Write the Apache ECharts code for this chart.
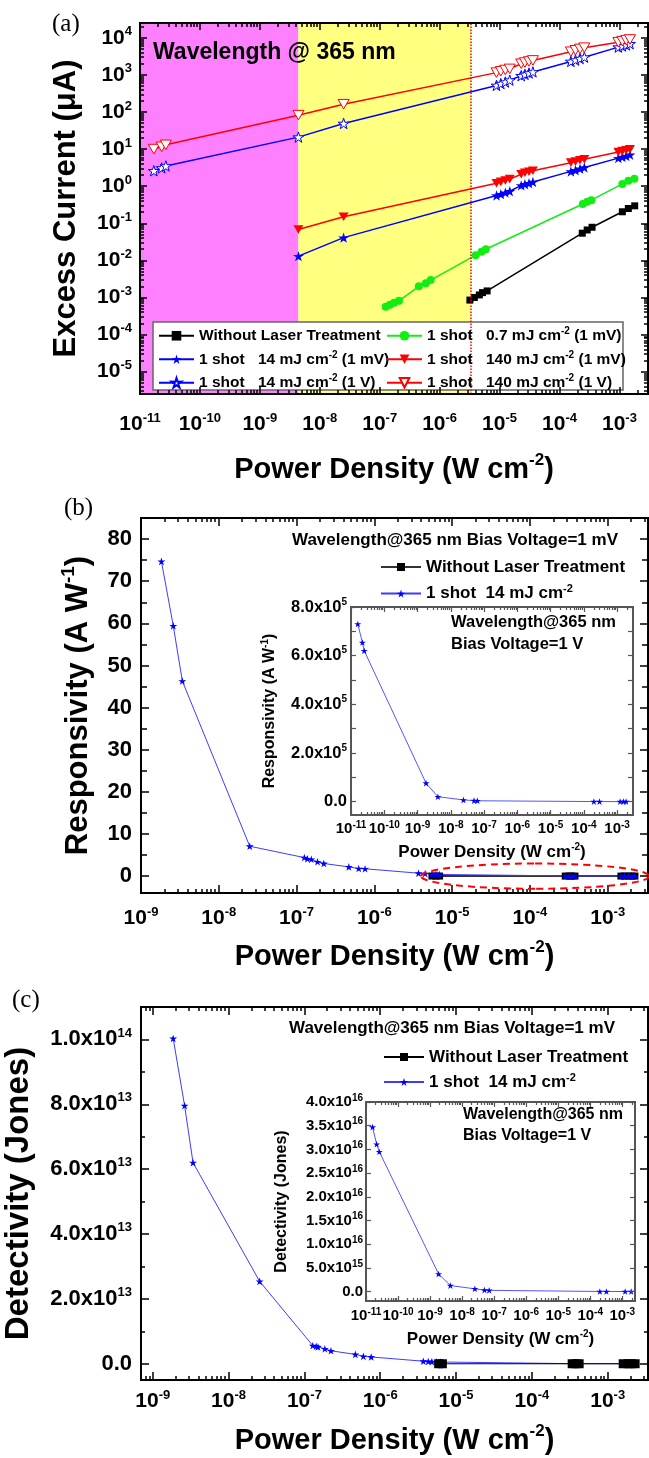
<!DOCTYPE html>
<html><head><meta charset="utf-8">
<script src="https://cdn.jsdelivr.net/npm/echarts@6/dist/echarts.min.js"></script>
<style>html,body{margin:0;padding:0;background:#fff}#c{width:649px;height:1458px}</style>
</head><body><div id="c"></div>
<script>
// ================= DATA =================
// Panel (a): excess current (uA) vs power density (W cm^-2)
const aBlackX = [3.2e-6, 3.8e-6, 4.6e-6, 5.2e-6, 6.2e-6, 2.4e-4, 2.9e-4, 3.5e-4, 1.12e-3, 1.41e-3, 1.8e-3];
const aBlackY = [8.5e-4, 1.0e-3, 1.17e-3, 1.35e-3, 1.5e-3, 0.054, 0.066, 0.078, 0.204, 0.25, 0.295];
const aGreenX = [1.26e-7, 1.48e-7, 1.74e-7, 2.1e-7, 4.5e-7, 5.9e-7, 7.1e-7, 4.0e-6, 5.0e-6, 5.9e-6, 2.45e-4, 2.9e-4, 3.4e-4, 1.12e-3, 1.41e-3, 1.78e-3];
const aGreenY = [5.6e-4, 6.4e-4, 7.2e-4, 8.1e-4, 2.0e-3, 2.4e-3, 2.95e-3, 0.0138, 0.017, 0.02, 0.33, 0.38, 0.42, 1.15, 1.41, 1.58];
const aMilliVoltX = [4.4e-9, 2.5e-8, 8.9e-6, 1.05e-5, 1.25e-5, 1.48e-5, 2.3e-5, 2.65e-5, 3.1e-5, 3.6e-5, 1.55e-4, 1.85e-4, 2.2e-4, 2.6e-4, 9.6e-4, 1.12e-3, 1.3e-3, 1.5e-3];
const a14mJ1mV  = [0.013, 0.041, 0.56, 0.61, 0.67, 0.73, 1.05, 1.13, 1.2, 1.3, 2.5, 2.7, 2.95, 3.2, 5.7, 6.1, 6.5, 7.0];
const a140mJ1mV = [0.068, 0.15, 1.2, 1.3, 1.42, 1.55, 2.1, 2.3, 2.45, 2.6, 4.3, 4.6, 5.0, 5.3, 8.3, 8.8, 9.3, 9.8];
const aVoltX = [1.7e-11, 2.3e-11, 2.7e-11, 4.4e-9, 2.5e-8, 8.9e-6, 1.05e-5, 1.25e-5, 1.48e-5, 2.3e-5, 2.65e-5, 3.1e-5, 3.6e-5, 1.55e-4, 1.85e-4, 2.2e-4, 2.6e-4, 9.6e-4, 1.12e-3, 1.3e-3, 1.5e-3];
const a14mJ1V  = [2.6, 3.1, 3.5, 21, 49, 520, 580, 640, 720, 950, 1030, 1120, 1200, 2300, 2500, 2750, 3000, 5600, 6000, 6400, 6900];
const a140mJ1V = [10, 11.5, 13, 82, 162, 1150, 1250, 1350, 1450, 2000, 2150, 2300, 2450, 4200, 4600, 5000, 5400, 7600, 8100, 8600, 9000];
const aRegionEdges = [4.4e-9, 3.3e-6];          // magenta | yellow | white boundaries
const aXRange = [1e-11, 3e-3], aYRange = [2.5e-6, 2.5e4];

// Panel (b): responsivity (A/W)
const bBlackX = [5.5e-6, 6.2e-6, 6.9e-6, 2.85e-4, 3.2e-4, 3.45e-4, 3.8e-4, 1.48e-3, 1.65e-3, 1.85e-3, 2.05e-3, 2.24e-3];
const bBlackY = [0.02, 0.02, 0.02, 0.02, 0.02, 0.02, 0.02, 0.02, 0.02, 0.02, 0.02, 0.02];
const bStarX = [1.83e-9, 2.6e-9, 3.4e-9, 2.5e-8, 1.26e-7, 1.38e-7, 1.55e-7, 1.86e-7, 2.24e-7, 4.7e-7, 6.3e-7, 7.6e-7, 3.7e-6, 4.5e-6, 5.5e-6, 6.2e-6, 6.9e-6, 2.85e-4, 3.2e-4, 3.45e-4, 3.8e-4, 1.48e-3, 1.65e-3, 1.85e-3, 2.05e-3, 2.24e-3];
const bStarY = [74.7, 59.4, 46.3, 7.1, 4.4, 4.1, 4.0, 3.4, 3.0, 2.2, 1.8, 1.75, 0.7, 0.6, 0.5, 0.45, 0.4, 0.06, 0.055, 0.05, 0.045, 0.03, 0.028, 0.026, 0.024, 0.022];
const bInsetX = [1.6e-11, 2.2e-11, 2.5e-11, 1.8e-9, 4.1e-9, 2.4e-8, 5.0e-8, 6.3e-8, 2.0e-4, 2.95e-4, 1.23e-3, 1.55e-3, 1.86e-3];
const bInsetY = [7.3e5, 6.54e5, 6.2e5, 7.6e4, 2.0e4, 7.0e3, 4.0e3, 3.5e3, 300, 250, 100, 80, 60];
const bEllipseX = [4e-6, 3.4e-3], bEllipseY = [-3, 3];
const bXRange = [1e-9, 3.3e-3], bYRange = [-4, 85];
const bInXRange = [1e-11, 3e-3], bInYRange = [-55000, 800000];
const bYLabels = [0, 10, 20, 30, 40, 50, 60, 70, 80];
const bYMinor = [5, 15, 25, 35, 45, 55, 65, 75];
const bInYLabels = [0, 2e5, 4e5, 6e5, 8e5];
const bInYMinor = [1e5, 3e5, 5e5, 7e5];

// Panel (c): detectivity (Jones)
const cStarX = [1.86e-9, 2.63e-9, 3.4e-9, 2.57e-8, 1.29e-7, 1.43e-7, 1.51e-7, 1.86e-7, 2.24e-7, 4.7e-7, 6.0e-7, 7.6e-7, 3.7e-6, 4.3e-6, 4.8e-6, 5.5e-6, 6.2e-6, 3.4e-4, 3.8e-4, 4.2e-4, 1.6e-3, 1.85e-3, 2.05e-3, 2.3e-3];
const cStarY = [1.003e14, 7.96e13, 6.2e13, 2.54e13, 5.6e12, 5.4e12, 5.2e12, 4.6e12, 4.0e12, 2.9e12, 2.3e12, 2.1e12, 8e11, 7e11, 6.5e11, 6e11, 5.5e11, 4e10, 3.5e10, 3e10, 2e10, 1.8e10, 1.6e10, 1.5e10];
const cBlackX = [5.9e-6, 6.6e-6, 3.4e-4, 3.8e-4, 4.2e-4, 1.6e-3, 1.85e-3, 2.05e-3, 2.3e-3];
const cBlackY = [1e10, 1e10, 1e10, 1e10, 1e10, 1e10, 1e10, 1e10, 1e10];
const cInsetX = [1.6e-11, 2.15e-11, 2.6e-11, 1.85e-9, 4.3e-9, 2.5e-8, 5.0e-8, 7.0e-8, 2.0e-4, 3.2e-4, 1.23e-3, 1.9e-3];
const cInsetY = [3.47e16, 3.11e16, 2.95e16, 3.7e15, 1.26e15, 5.7e14, 3.0e14, 2.5e14, 1e13, 8e12, 4e12, 3e12];
const cXRange = [7e-10, 3.4e-3], cYRange = [-5e12, 1.1e14];
const cInXRange = [1e-11, 2.5e-3], cInYRange = [-2e15, 4e16];
const cYLabels = [0, 2e13, 4e13, 6e13, 8e13, 1e14];
const cYMinor = [1e13, 3e13, 5e13, 7e13, 9e13];
const cInYLabels = [0, 5e15, 1e16, 1.5e16, 2e16, 2.5e16, 3e16, 3.5e16, 4e16];

// ================= HELPERS =================
const FONT = "'Liberation Sans', Arial, Helvetica, sans-serif";
const SERIF = "'Liberation Serif', 'Times New Roman', serif";
const L = Math.log10;
const STAR = 'path://M50,2 L61.17,36.63 L97.55,36.55 L68.07,57.87 L79.39,92.45 L50,71 L20.61,92.45 L31.93,57.87 L2.45,36.55 L38.83,36.63 Z';
const TRI_DOWN = 'path://M0,0 L10,0 L5,8.66 Z';

function supRich(base, sup) {
  return {
    b: {fontSize: base, fontWeight: 'bold', fontFamily: FONT, color: '#000', lineHeight: Math.round(base * 1.2)},
    s: {fontSize: sup, fontWeight: 'bold', fontFamily: FONT, color: '#000', verticalAlign: 'top', lineHeight: sup}
  };
}
const pow10 = v => '{b|10}{s|' + Math.round(v) + '}';
function sci(v) {
  if (v === 0) return '{b|0.0}';
  const e = Math.floor(L(Math.abs(v)) + 1e-9);
  return '{b|' + (v / Math.pow(10, e)).toFixed(1) + 'x10}{s|' + e + '}';
}
function lin(v) { return '{b|' + v + '}'; }
function decades(lo, hi) { const r = []; for (let n = Math.ceil(lo - 1e-9); n <= hi + 1e-9; n++) r.push(n); return r; }
function minorLogs(lo, hi) {
  const r = [];
  for (let n = Math.floor(lo) - 1; n <= Math.ceil(hi); n++)
    for (let k = 2; k <= 9; k++) { const v = n + L(k); if (v > lo + 1e-6 && v < hi - 1e-6) r.push(v); }
  return r;
}
const xAxis = [], yAxis = [];
function frameAxes(dim, grid, min, max, o) {
  const list = dim === 'x' ? xAxis : yAxis;
  const pos = dim === 'x' ? ['bottom', 'top'] : ['left', 'right'];
  const base = p => ({type: 'value', gridIndex: grid, position: p, min, max, z: 10, silent: true,
    axisLine: {show: true, onZero: false, lineStyle: {color: o.color, width: o.width}},
    splitLine: {show: false}, axisLabel: {show: false}, axisTick: {show: false}});
  const tick = (vals, len) => ({show: true, inside: true, length: len, customValues: vals,
    lineStyle: {color: o.color, width: o.tickWidth}});
  const main = base(pos[0]);
  main.axisTick = tick(o.majors, o.majorLen);
  main.axisLabel = {show: true, customValues: o.labels, formatter: o.formatter, margin: o.margin,
    rich: supRich(o.size, o.sup)};
  if (o.name) {
    main.name = o.name; main.nameLocation = 'middle'; main.nameGap = o.nameGap;
    main.nameTextStyle = {fontSize: o.nameSize, fontWeight: 'bold', fontFamily: FONT, color: '#000',
      lineHeight: Math.round(o.nameSize * 1.2),
      rich: {s: {fontSize: Math.round(o.nameSize * 0.6), fontWeight: 'bold', fontFamily: FONT, color: '#000',
        verticalAlign: 'top', lineHeight: Math.round(o.nameSize * 0.6)}}};
  }
  list.push(main); const idx = list.length - 1;
  if (o.minors && o.minors.length) { const m = base(pos[0]); m.axisTick = tick(o.minors, o.minorLen); list.push(m); }
  const t = base(pos[1]); t.axisTick = tick(o.majors, o.majorLen); list.push(t);
  if (o.minors && o.minors.length) { const m2 = base(pos[1]); m2.axisTick = tick(o.minors, o.minorLen); list.push(m2); }
  return idx;
}
const logPairs = (xs, ys) => xs.map((x, i) => [L(x), L(ys[i])]);
const logXPairs = (xs, ys) => xs.map((x, i) => [L(x), ys[i]]);

// ================= GRIDS & AXES =================
const grid = [
  {left: 140, top: 23, width: 508, height: 371},
  {left: 141, top: 518, width: 507, height: 375},
  {left: 351, top: 607, width: 282, height: 208, show: true, backgroundColor: '#fff', borderWidth: 0},
  {left: 141, top: 1007, width: 507, height: 373},
  {left: 366, top: 1102, width: 269, height: 199, show: true, backgroundColor: '#fff', borderWidth: 0}
].map(g => Object.assign({outerBoundsMode: 'none', containLabel: false}, g));

const MAIN = {color: '#000', width: 2, tickWidth: 1.5};
const INS = {color: '#555', width: 2, tickWidth: 1.2};
function logX(grid, rng, extra) {
  const lo = L(rng[0]), hi = L(rng[1]);
  return frameAxes('x', grid, lo, hi, Object.assign({majors: decades(lo, hi), labels: decades(lo, hi), minors: minorLogs(lo, hi), formatter: pow10}, extra));
}
// (a)
const axA = logX(0, aXRange, Object.assign({}, MAIN, {majorLen: 7, minorLen: 4, size: 21, sup: 13, margin: 18,
  name: 'Power Density (W cm{s|-2})', nameSize: 29, nameGap: 58}));
const ayA = (() => { const lo = L(aYRange[0]), hi = L(aYRange[1]);
  return frameAxes('y', 0, lo, hi, Object.assign({}, MAIN, {majors: decades(lo, hi), labels: decades(lo, hi), minors: minorLogs(lo, hi),
    formatter: pow10, majorLen: 7, minorLen: 4, size: 21, sup: 13, margin: 8,
    name: 'Excess Current (\u03bcA)', nameSize: 31, nameGap: 55})); })();
// (b)
const axB = logX(1, bXRange, Object.assign({}, MAIN, {majorLen: 8, minorLen: 4, size: 21, sup: 13, margin: 13,
  name: 'Power Density (W cm{s|-2})', nameSize: 29, nameGap: 46}));
const ayB = frameAxes('y', 1, bYRange[0], bYRange[1], Object.assign({}, MAIN, {majors: bYLabels, labels: bYLabels, minors: bYMinor,
  formatter: lin, majorLen: 8, minorLen: 6, size: 22, sup: 13, margin: 9,
  name: 'Responsivity (A W{s|-1})', nameSize: 31, nameGap: 43}));
const axBi = logX(2, bInXRange, Object.assign({}, INS, {majorLen: 5, minorLen: 3, size: 15, sup: 10, margin: 5,
  name: 'Power Density (W cm{s|-2})', nameSize: 17, nameGap: 27}));
const ayBi = frameAxes('y', 2, bInYRange[0], bInYRange[1], Object.assign({}, INS, {majors: bInYLabels, labels: bInYLabels, minors: bInYMinor,
  formatter: sci, majorLen: 5, minorLen: 5, size: 16.5, sup: 10, margin: 4,
  name: 'Responsivity (A W{s|-1})', nameSize: 16, nameGap: 72}));
// (c)
const axC = logX(3, cXRange, Object.assign({}, MAIN, {majorLen: 8, minorLen: 4, size: 21, sup: 13, margin: 9,
  name: 'Power Density (W cm{s|-2})', nameSize: 29, nameGap: 43}));
const ayC = frameAxes('y', 3, cYRange[0], cYRange[1], Object.assign({}, MAIN, {majors: cYLabels, labels: cYLabels, minors: cYMinor,
  formatter: sci, majorLen: 8, minorLen: 4, size: 22, sup: 13, margin: 9,
  name: 'Detectivity (Jones)', nameSize: 33, nameGap: 97}));
const axCi = logX(4, cInXRange, Object.assign({}, INS, {majorLen: 5, minorLen: 3, size: 15, sup: 10, margin: 6,
  name: 'Power Density (W cm{s|-2})', nameSize: 17, nameGap: 28}));
const ayCi = frameAxes('y', 4, cInYRange[0], cInYRange[1], Object.assign({}, INS, {majors: cInYLabels, labels: cInYLabels, minors: [],
  formatter: sci, majorLen: 5, minorLen: 5, size: 15, sup: 10, margin: 3,
  name: 'Detectivity (Jones)', nameSize: 16, nameGap: 75}));

// ================= SERIES =================
const BLUE = '#0000ff', RED = '#ff0000', GREEN = '#11ee11';
function ser(name, xi, yi, data, o) {
  return Object.assign({type: 'line', name, xAxisIndex: xi, yAxisIndex: yi, data, z: 3, silent: true,
    symbolKeepAspect: true, showAllSymbol: true}, o);
}
const series = [
  // background regions of (a)
  {type: 'line', name: 'regions', xAxisIndex: axA, yAxisIndex: ayA, data: [], z: 1, silent: true,
   markArea: {silent: true, data: [
     [{xAxis: L(aXRange[0]), itemStyle: {color: '#ff80ff', opacity: 1}}, {xAxis: L(aRegionEdges[0])}],
     [{xAxis: L(aRegionEdges[0]), itemStyle: {color: '#ffff80', opacity: 1}}, {xAxis: L(aRegionEdges[1])}]
   ]},
   markLine: {silent: true, symbol: 'none', label: {show: false},
     lineStyle: {color: RED, type: 'dotted', width: 1.5}, data: [{xAxis: L(aRegionEdges[1])}]}},
  ser('aBlack', axA, ayA, logPairs(aBlackX, aBlackY), {symbol: 'rect', symbolSize: 7,
    itemStyle: {color: '#000'}, lineStyle: {color: '#000', width: 1.5}}),
  ser('aGreen', axA, ayA, logPairs(aGreenX, aGreenY), {symbol: 'circle', symbolSize: 8,
    itemStyle: {color: GREEN}, lineStyle: {color: GREEN, width: 1.5}}),
  ser('a14mV', axA, ayA, logPairs(aMilliVoltX, a14mJ1mV), {symbol: STAR, symbolSize: 11,
    itemStyle: {color: BLUE}, lineStyle: {color: BLUE, width: 1.5}}),
  ser('a140mV', axA, ayA, logPairs(aMilliVoltX, a140mJ1mV), {symbol: TRI_DOWN, symbolSize: 10,
    itemStyle: {color: RED}, lineStyle: {color: RED, width: 1.5}}),
  ser('a14V', axA, ayA, logPairs(aVoltX, a14mJ1V), {symbol: STAR, symbolSize: 11,
    itemStyle: {color: '#fff', borderColor: BLUE, borderWidth: 1}, lineStyle: {color: BLUE, width: 1.5}}),
  ser('a140V', axA, ayA, logPairs(aVoltX, a140mJ1V), {symbol: TRI_DOWN, symbolSize: 11,
    itemStyle: {color: '#fff', borderColor: RED, borderWidth: 1}, lineStyle: {color: RED, width: 1.5}}),
  // (b)
  ser('bBlack', axB, ayB, logXPairs(bBlackX, bBlackY), {symbol: 'rect', symbolSize: 7,
    itemStyle: {color: '#000'}, lineStyle: {color: '#333', width: 2}}),
  ser('bStar', axB, ayB, logXPairs(bStarX, bStarY), {symbol: STAR, symbolSize: 8,
    itemStyle: {color: BLUE}, lineStyle: {color: '#3c3cff', width: 1}}),
  ser('bInset', axBi, ayBi, logXPairs(bInsetX, bInsetY), {symbol: STAR, symbolSize: 7,
    itemStyle: {color: BLUE}, lineStyle: {color: '#5555ff', width: 1}}),
  // (c)
  ser('cStar', axC, ayC, logXPairs(cStarX, cStarY), {symbol: STAR, symbolSize: 8,
    itemStyle: {color: BLUE}, lineStyle: {color: '#3c3cff', width: 1}}),
  ser('cBlack', axC, ayC, logXPairs(cBlackX, cBlackY), {symbol: 'rect', symbolSize: 9, z: 4,
    itemStyle: {color: '#000'}, lineStyle: {color: '#000', width: 1}}),
  ser('cInset', axCi, ayCi, logXPairs(cInsetX, cInsetY), {symbol: STAR, symbolSize: 7,
    itemStyle: {color: BLUE}, lineStyle: {color: '#5555ff', width: 1}})
];

// ================= LEGENDS =================
const legendText = {
  aBlack: 'Without Laser Treatment',
  aGreen: '{t|1 shot}0.7 mJ cm{s|-2} (1 mV)',
  a14mV: '{t|1 shot}14 mJ cm{s|-2} (1 mV)',
  a140mV: '{t|1 shot}140 mJ cm{s|-2} (1 mV)',
  a14V: '{t|1 shot}14 mJ cm{s|-2} (1 V)',
  a140V: '{t|1 shot}140 mJ cm{s|-2} (1 V)',
  bBlack: 'Without Laser Treatment', bStar: '1 shot  14 mJ cm{s|-2}',
  cBlack: 'Without Laser Treatment', cStar: '1 shot  14 mJ cm{s|-2}'
};
function legendStyle(size, extra) {
  return Object.assign({fontSize: size, fontWeight: 'bold', fontFamily: FONT, color: '#000', lineHeight: Math.round(size * 1.2),
    rich: {t: {width: 59, fontSize: size, fontWeight: 'bold', fontFamily: FONT, color: '#000'},
           s: {fontSize: Math.round(size * 0.62), fontWeight: 'bold', fontFamily: FONT, color: '#000', verticalAlign: 'top', lineHeight: Math.round(size * 0.62)}}}, extra);
}
const legA = {orient: 'vertical', padding: 0, itemGap: 5, itemWidth: 35, itemHeight: 12, z: 6,
  selectedMode: false, formatter: n => legendText[n], textStyle: legendStyle(15.5, {lineHeight: 18.5})};
const legend = [
  Object.assign({}, legA, {left: 158, top: 326.5, data: ['aBlack', 'a14mV', 'a14V']}),
  Object.assign({}, legA, {left: 386, top: 326.5, data: ['aGreen', 'a140mV', 'a140V']}),
  {left: 380, top: 557, orient: 'vertical', padding: 0, itemGap: 6.6, itemWidth: 40, itemHeight: 10,
   selectedMode: false, data: ['bBlack', 'bStar'], formatter: n => legendText[n], textStyle: legendStyle(17, {lineHeight: 20})},
  {left: 383, top: 1047, orient: 'vertical', padding: 0, itemGap: 5, itemWidth: 40, itemHeight: 10,
   selectedMode: false, data: ['cBlack', 'cStar'], formatter: n => legendText[n], textStyle: legendStyle(17, {lineHeight: 20})}
];

// ================= TEXT =================
function txt(id, text, x, y, size, family, weight) {
  return {type: 'text', id, x, y, z: 20, silent: true,
    style: {text, fontSize: size, fontFamily: family || FONT, fontWeight: weight || 'bold', fill: '#000', align: 'left', verticalAlign: 'middle'}};
}
const graphic = [
  {type: 'rect', id: 'legBoxA', z: 2, silent: true, shape: {x: 153, y: 322, width: 470, height: 68},
   style: {fill: '#fff', stroke: '#666', lineWidth: 1.5}},
  txt('la', '(a)', 52, 24, 25, SERIF, 'normal'),
  txt('lb', '(b)', 64, 508, 25, SERIF, 'normal'),
  txt('lc', '(c)', 12, 1000, 25, SERIF, 'normal'),
  txt('ta', 'Wavelength @ 365 nm', 153, 53, 23),
  txt('tb', 'Wavelength@365 nm Bias Voltage=1 mV', 292, 540, 17),
  txt('tc', 'Wavelength@365 nm Bias Voltage=1 mV', 289, 1028, 17),
  txt('tbi1', 'Wavelength@365 nm', 451, 622, 16.5),
  txt('tbi2', 'Bias Voltage=1 V', 451, 644, 16.5),
  txt('tci1', 'Wavelength@365 nm', 463, 1115, 16),
  txt('tci2', 'Bias Voltage=1 V', 463, 1136, 16)
];

const chart = echarts.init(document.getElementById('c'), null, {renderer: 'canvas', width: 649, height: 1458});
chart.setOption({animation: false, backgroundColor: '#fff', grid, xAxis, yAxis, series, legend, graphic});

// dashed ellipse around the low-response region in (b), placed from data coordinates
const p1 = chart.convertToPixel({xAxisIndex: axB, yAxisIndex: ayB}, [L(bEllipseX[0]), bEllipseY[0]]);
const p2 = chart.convertToPixel({xAxisIndex: axB, yAxisIndex: ayB}, [L(bEllipseX[1]), bEllipseY[1]]);
const cx = (p1[0] + p2[0]) / 2, cy = (p1[1] + p2[1]) / 2, rx = Math.abs(p2[0] - p1[0]) / 2, ry = Math.abs(p2[1] - p1[1]) / 2;
const K = 0.5523;
const quad = [[1, 0, 0, 1], [0, 1, -1, 0], [-1, 0, 0, -1], [0, -1, 1, 0]];
const ell = quad.map((q, i) => ({type: 'bezierCurve', id: 'ell' + i, z: 15, silent: true,
  shape: {x1: cx + q[0] * rx, y1: cy + q[1] * ry, x2: cx + q[2] * rx, y2: cy + q[3] * ry,
    cpx1: cx + q[0] * rx + (q[2]) * rx * K, cpy1: cy + q[1] * ry + (q[3]) * ry * K,
    cpx2: cx + q[2] * rx + (q[0]) * rx * K, cpy2: cy + q[3] * ry + (q[1]) * ry * K},
  style: {stroke: '#ff0000', lineWidth: 2, lineDash: [7, 5], fill: null}}));
chart.setOption({graphic: ell});
</script></body></html>
